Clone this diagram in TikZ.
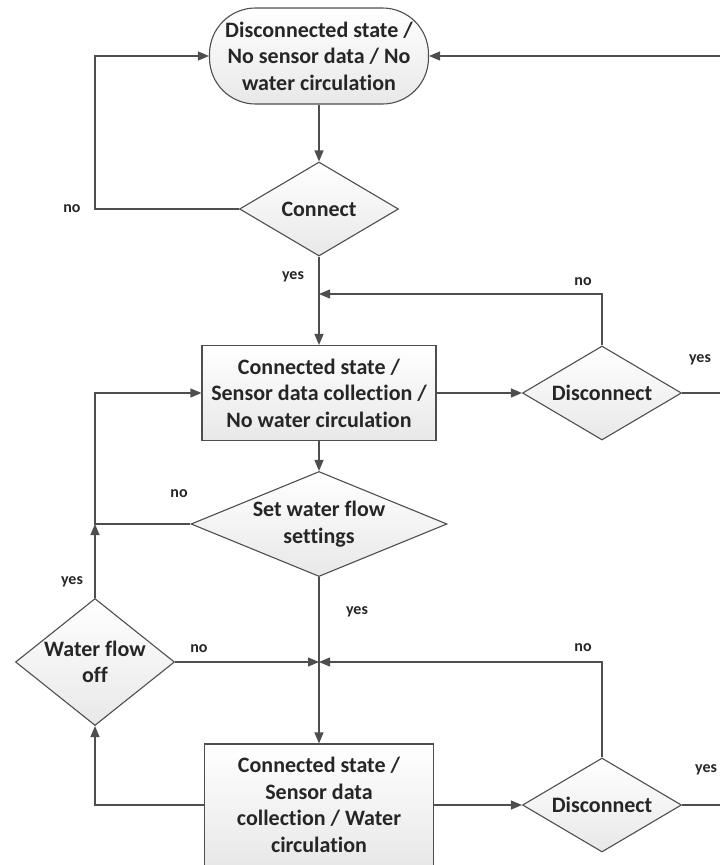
\documentclass[tikz,border=0pt]{standalone}
\usepackage{fontspec}
\setmainfont[Ligatures=NoCommon]{Carlito}
\usetikzlibrary{arrows.meta,shapes.geometric}
\definecolor{linec}{HTML}{4E4E4E}
\definecolor{txtc}{HTML}{262626}
\begin{document}
\begin{tikzpicture}[x=1pt,y=-1pt,
  sbase/.style={draw=linec, line width=1.1pt, top color=white, bottom color=black!9, text=txtc,
    font=\fontsize{22}{26.5}\selectfont\bfseries, align=center, inner sep=0pt},
  sproc/.style={sbase, rectangle},
  sterm/.style={sbase, rectangle, rounded corners=46pt},
  sdec/.style={sbase, diamond},
  stxt/.style={text=txtc, font=\fontsize{22}{26.5}\selectfont\bfseries, align=center, inner sep=0pt},
  slab/.style={text=txtc, font=\fontsize{16}{19}\selectfont\bfseries, inner sep=0pt},
  sline/.style={draw=linec, line width=1.1pt},
  sarr/.style={sline, -{Triangle[length=11pt,width=9pt]}}
]
\useasboundingbox (0,0) rectangle (720,865);
\clip (0,0) rectangle (720,865);

% nodes
\node[sterm, minimum width=219pt, minimum height=96pt] (term) at (319,56)
  {Disconnected state /\\No sensor data / No\\water circulation};
\node[sdec, minimum width=159pt, minimum height=94pt, label={[stxt]center:Connect}] (conn) at (319,209) {};
\node[sproc, minimum width=234pt, minimum height=95pt] (s1) at (319,393)
  {Connected state /\\Sensor data collection /\\No water circulation};
\node[sdec, minimum width=159pt, minimum height=94pt, label={[stxt]center:Disconnect}] (d1) at (602,393) {};
\node[sdec, minimum width=256pt, minimum height=105pt, label={[stxt]center:Set water flow\\settings}] (swf) at (319,524) {};
\node[sdec, minimum width=159pt, minimum height=127pt, label={[stxt]center:Water flow\\off}] (wfo) at (95,662) {};
\node[sproc, minimum width=229pt, minimum height=122pt] (s2) at (319,805)
  {Connected state /\\Sensor data\\collection / Water\\circulation};
\node[sdec, minimum width=159pt, minimum height=94pt, label={[stxt]center:Disconnect}] (d2) at (602,805) {};

% coordinates
\coordinate (rin) at (730,56);
\coordinate (j1) at (319,294);
\coordinate (r1) at (730,393);
\coordinate (jl) at (95,524);
\coordinate (j2) at (319,662);
\coordinate (r2) at (730,805);

% connectors
\draw[sarr] (conn.west) -- ++(-144,0) |- (term.west);
\draw[sarr] (rin) -- (term.east);
\draw[sarr] (term.south) -- (conn.north);
\draw[sarr] (conn.south) -- (s1.north);
\draw[sarr] (d1.north) |- (j1);
\draw[sarr] (s1.east) -- (d1.west);
\draw[sline] (d1.east) -- (r1);
\draw[sarr] (s1.south) -- (swf.north);
\draw[sarr] (swf.west) -- (jl) |- (s1.west);
\draw[sarr] (wfo.north) -- (jl);
\draw[sarr] (swf.south) -- (s2.north);
\draw[sarr] (wfo.east) -- (j2);
\draw[sarr] (d2.north) |- (j2);
\draw[sarr] (s2.west) -| (wfo.south);
\draw[sarr] (s2.east) -- (d2.west);
\draw[sline] (d2.east) -- (r2);

% labels
\node[slab] (l1) at (72,209) {no};
\node[slab] (l2) at (293,277) {yes};
\node[slab] (l3) at (583,282) {no};
\node[slab] (l4) at (700,360) {yes};
\node[slab] (l5) at (179,494) {no};
\node[slab] (l6) at (72,582) {yes};
\node[slab] (l7) at (357,612) {yes};
\node[slab] (l8) at (199,649) {no};
\node[slab] (l9) at (583,648) {no};
\node[slab, anchor=west] (l10) at (695,770) {yes};
\end{tikzpicture}
\end{document}
